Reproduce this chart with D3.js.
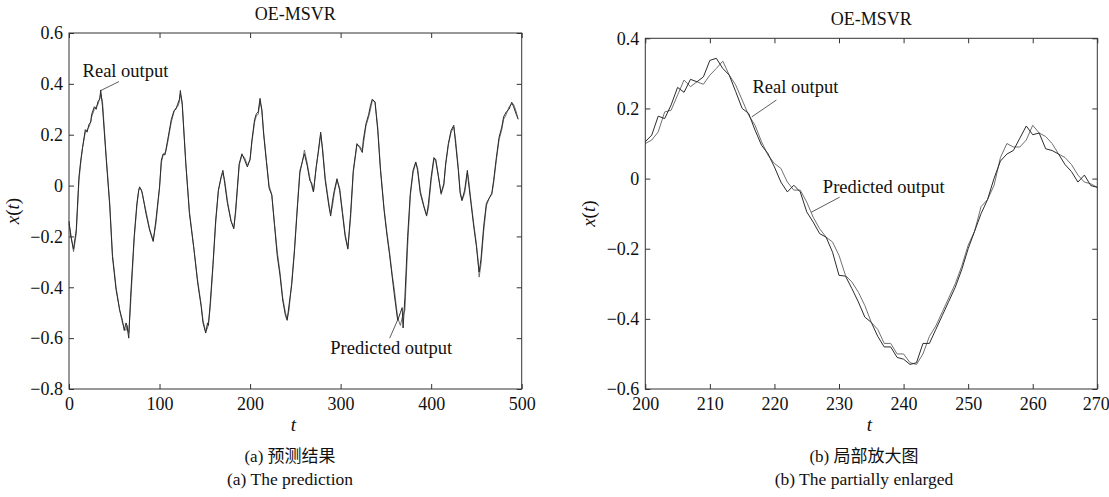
<!DOCTYPE html>
<html>
<head>
<meta charset="utf-8">
<script src="https://cdn.jsdelivr.net/npm/d3@7"></script>
<style>
  body { margin: 0; background: #fff; }
</style>
</head>
<body>
<div id="chart"></div>
<script>
// donnees

// (a) toute la serie, points releves
var leftT = [0, 2, 5, 8, 11, 13, 15, 18, 20, 22, 24, 25, 28, 30, 32, 34, 35, 37, 41, 45,
  48, 52, 56, 59, 61, 63, 64, 66, 68, 72, 75, 77, 78, 80, 81, 85, 89, 93, 96, 100,
  102, 104, 106, 107, 109, 113, 116, 118, 120, 122, 123, 125, 129, 133, 138, 142, 146, 148, 151, 153,
  154, 156, 159, 162, 165, 168, 170, 172, 175, 179, 182, 184, 188, 191, 194, 197, 200, 202, 205, 207,
  209, 211, 213, 215, 218, 221, 224, 227, 230, 233, 236, 239, 241, 243, 246, 249, 252, 255, 258, 260,
  263, 266, 268, 270, 273, 275, 278, 280, 283, 287, 289, 291, 293, 296, 299, 302, 305, 308, 311, 314,
  318, 321, 324, 325, 328, 331, 333, 335, 338, 341, 344, 348, 351, 354, 357, 359, 361, 363, 366, 368,
  369, 371, 374, 377, 380, 383, 385, 388, 392, 395, 397, 400, 403, 405, 408, 411, 414, 416, 419, 422,
  425, 427, 430, 432, 434, 437, 440, 441, 444, 447, 450, 452, 453, 455, 458, 461, 464, 467, 469, 472,
  475, 478, 480, 483, 486, 489, 491, 494, 496];

var leftReal = [-0.14, -0.2, -0.25, -0.175, 0.034, 0.10, 0.15, 0.22, 0.21, 0.24, 0.25, 0.28, 0.31, 0.30, 0.33, 0.34, 0.376, 0.31, 0.11, -0.08,
  -0.28, -0.41, -0.49, -0.53, -0.57, -0.54, -0.55, -0.60, -0.44, -0.2, -0.07, -0.018, -0.005, -0.02, -0.03, -0.11, -0.175, -0.22, -0.136, -0.005,
  0.10, 0.125, 0.12, 0.14, 0.18, 0.26, 0.295, 0.30, 0.32, 0.34, 0.374, 0.32, 0.086, -0.11, -0.25, -0.38, -0.476, -0.54, -0.58, -0.54,
  -0.55, -0.46, -0.31, -0.136, -0.018, 0.034, 0.06, 0.008, -0.07, -0.14, -0.17, -0.097, 0.086, 0.125, 0.10, 0.073, 0.105, 0.178, 0.26, 0.283,
  0.29, 0.343, 0.295, 0.2, 0.095, -0.01, -0.038, -0.157, -0.276, -0.352, -0.45, -0.51, -0.53, -0.47, -0.39, -0.26, -0.1, 0.05, 0.1, 0.125,
  0.08, 0.02, 0.01, -0.025, 0.073, 0.125, 0.21, 0.14, 0.02, -0.08, -0.12, -0.06, -0.02, 0.027, -0.02, -0.11, -0.2, -0.25, -0.11, 0.06,
  0.165, 0.15, 0.13, 0.178, 0.243, 0.28, 0.315, 0.34, 0.328, 0.217, 0.06, -0.097, -0.19, -0.27, -0.36, -0.42, -0.476, -0.53, -0.50, -0.48,
  -0.56, -0.44, -0.2, -0.03, 0.06, 0.093, 0.06, -0.03, -0.084, -0.12, -0.07, 0.034, 0.11, 0.10, 0.034, -0.03, 0.008, 0.086, 0.165, 0.217,
  0.237, 0.165, 0.06, -0.03, -0.058, -0.018, 0.06, 0.02, -0.07, -0.16, -0.24, -0.31, -0.34, -0.29, -0.16, -0.07, -0.05, -0.03, 0.02, 0.11,
  0.19, 0.23, 0.27, 0.29, 0.30, 0.328, 0.31, 0.28, 0.263];

var leftPred = [-0.15, -0.19, -0.26, -0.19, 0.02, 0.09, 0.15, 0.21, 0.22, 0.23, 0.25, 0.27, 0.30, 0.31, 0.32, 0.345, 0.36, 0.33, 0.12, -0.07,
  -0.27, -0.40, -0.49, -0.54, -0.56, -0.57, -0.55, -0.58, -0.47, -0.21, -0.08, -0.02, -0.01, -0.015, -0.035, -0.10, -0.17, -0.215, -0.15, -0.01,
  0.09, 0.12, 0.13, 0.135, 0.17, 0.25, 0.29, 0.305, 0.31, 0.33, 0.36, 0.33, 0.09, -0.10, -0.25, -0.37, -0.47, -0.53, -0.575, -0.56,
  -0.54, -0.48, -0.32, -0.15, -0.02, 0.03, 0.05, 0.02, -0.06, -0.14, -0.165, -0.11, 0.08, 0.12, 0.11, 0.08, 0.10, 0.17, 0.25, 0.275,
  0.28, 0.33, 0.30, 0.21, 0.10, 0.0, -0.035, -0.15, -0.26, -0.34, -0.44, -0.50, -0.525, -0.49, -0.38, -0.25, -0.09, 0.06, 0.095, 0.14,
  0.09, 0.03, 0.0, -0.025, 0.07, 0.12, 0.20, 0.15, 0.03, -0.07, -0.11, -0.08, -0.03, 0.02, -0.01, -0.10, -0.19, -0.245, -0.13, 0.05,
  0.16, 0.155, 0.14, 0.16, 0.235, 0.27, 0.30, 0.335, 0.33, 0.23, 0.07, -0.09, -0.18, -0.26, -0.35, -0.40, -0.46, -0.52, -0.55, -0.52,
  -0.51, -0.49, -0.24, -0.04, 0.05, 0.09, 0.07, -0.02, -0.08, -0.115, -0.09, 0.02, 0.10, 0.105, 0.04, -0.035, 0.0, 0.08, 0.16, 0.21,
  0.23, 0.18, 0.07, -0.02, -0.06, -0.03, 0.05, 0.035, -0.06, -0.15, -0.23, -0.30, -0.36, -0.31, -0.18, -0.08, -0.05, -0.035, 0.01, 0.10,
  0.18, 0.22, 0.26, 0.28, 0.31, 0.32, 0.32, 0.29, 0.26];

// (b) zoom t = 200..270, un point par pas
var zoomT = d3.range(200, 271);

var zoomReal = [0.105, 0.124, 0.178, 0.171, 0.21, 0.26, 0.246, 0.283, 0.276, 0.29,
  0.337, 0.343, 0.314, 0.295, 0.248, 0.2, 0.186, 0.138, 0.095, 0.071,
  0.033, -0.01, -0.038, -0.019, -0.038, -0.095, -0.124, -0.157, -0.167, -0.21,
  -0.276, -0.278, -0.314, -0.352, -0.395, -0.41, -0.45, -0.48, -0.48, -0.51,
  -0.515, -0.53, -0.525, -0.47, -0.47, -0.43, -0.39, -0.35, -0.31, -0.26,
  -0.2, -0.15, -0.1, -0.06, 0.0, 0.05, 0.07, 0.08, 0.115, 0.15,
  0.125, 0.13, 0.085, 0.08, 0.07, 0.04, 0.02, -0.01, 0.01, -0.02,
  -0.025];

var zoomPred = [0.1, 0.11, 0.133, 0.19, 0.195, 0.238, 0.281, 0.262, 0.276, 0.269,
  0.295, 0.314, 0.335, 0.295, 0.267, 0.224, 0.181, 0.152, 0.105, 0.067,
  0.043, 0.029, -0.01, -0.033, -0.033, -0.067, -0.11, -0.143, -0.167, -0.181,
  -0.219, -0.276, -0.295, -0.324, -0.362, -0.41, -0.43, -0.47, -0.47, -0.5,
  -0.5, -0.525, -0.53, -0.5, -0.45, -0.42, -0.38, -0.34, -0.3, -0.25,
  -0.19, -0.15, -0.08, -0.06, -0.02, 0.06, 0.1, 0.09, 0.09, 0.11,
  0.152, 0.13, 0.12, 0.1, 0.07, 0.06, 0.04, 0.01, -0.01, -0.015,
  -0.025];

var leftXTicks = [0, 100, 200, 300, 400, 500];
var leftYTicks = [-0.8, -0.6, -0.4, -0.2, 0, 0.2, 0.4, 0.6];
var zoomXTicks = [200, 210, 220, 230, 240, 250, 260, 270];
var zoomYTicks = [-0.6, -0.4, -0.2, 0, 0.2, 0.4];

var width = 1109, height = 497;
var serif = "'Liberation Serif', 'Times New Roman', 'Noto Sans CJK SC', serif";

var svg = d3.select("#chart")
  .append("svg")
  .attr("width", width)
  .attr("height", height)
  .style("font-family", serif)
  .attr("fill", "#111");

var panels = [
  {
    left: 69, right: 521.7, top: 33, bottom: 389,
    xDom: [0, 500], yDom: [-0.8, 0.6],
    xTicks: leftXTicks, yTicks: leftYTicks,
    t: leftT, real: leftReal, pred: leftPred,
    titleY: 20, capX: 290,
    cap1: "(a) 预测结果", cap2: "(a) The prediction",
    notes: [
      { text: "Real output", tx: 15, ty: 0.426, x1: 55.2, y1: 0.409, x2: 35.3, y2: 0.374 },
      { text: "Predicted output", tx: 288.6, ty: -0.662, x1: 354.2, y1: -0.6, x2: 363.4, y2: -0.525 }
    ]
  },
  {
    left: 645.3, right: 1097.3, top: 38.3, bottom: 389,
    xDom: [200, 270], yDom: [-0.6, 0.4],
    xTicks: zoomXTicks, yTicks: zoomYTicks,
    t: zoomT, real: zoomReal, pred: zoomPred,
    titleY: 25, capX: 864,
    cap1: "(b) 局部放大图", cap2: "(b) The partially enlarged",
    notes: [
      { text: "Real output", tx: 216.6, ty: 0.243, x1: 220.3, y1: 0.224, x2: 216.5, y2: 0.176 },
      { text: "Predicted output", tx: 227.5, ty: -0.042, x1: 230.1, y1: -0.053, x2: 225.7, y2: -0.096 }
    ]
  }
];

function fmt(d) {
  return d3.format("")(d).replace("-", "\u2212");
}

panels.forEach(function(p) {
  var x = d3.scaleLinear().domain(p.xDom).range([p.left, p.right]);
  var y = d3.scaleLinear().domain(p.yDom).range([p.bottom, p.top]);
  var g = svg.append("g");

  // lignes
  var line = d3.line()
    .x(function(d) { return x(d[0]); })
    .y(function(d) { return y(d[1]); });

  g.append("path")
    .datum(p.t.map(function(t, i) { return [t, p.pred[i]]; }))
    .attr("fill", "none")
    .attr("stroke", "#707070")
    .attr("stroke-width", 1)
    .attr("d", line);

  g.append("path")
    .datum(p.t.map(function(t, i) { return [t, p.real[i]]; }))
    .attr("fill", "none")
    .attr("stroke", "#2b2b2b")
    .attr("stroke-width", 1)
    .attr("d", line);

  // axes, graduations vers l'interieur
  var ax = [
    { a: d3.axisBottom(x), tr: "translate(0," + p.bottom + ")", lab: true, v: p.xTicks, pad: 8 },
    { a: d3.axisTop(x), tr: "translate(0," + p.top + ")", lab: false, v: p.xTicks, pad: 0 },
    { a: d3.axisLeft(y), tr: "translate(" + p.left + ",0)", lab: true, v: p.yTicks, pad: 6 },
    { a: d3.axisRight(y), tr: "translate(" + p.right + ",0)", lab: false, v: p.yTicks, pad: 0 }
  ];
  ax.forEach(function(o) {
    var axg = g.append("g")
      .attr("transform", o.tr)
      .call(o.a.tickValues(o.v).tickSizeInner(-5).tickSizeOuter(0).tickPadding(o.pad)
        .tickFormat(o.lab ? fmt : ""));
    axg.select(".domain").remove();
    axg.selectAll("line").attr("stroke", "#333");
    axg.attr("font-family", null).attr("font-size", 18);
    axg.selectAll("text").attr("fill", "#111");
  });

  g.append("rect")
    .attr("x", p.left)
    .attr("y", p.top)
    .attr("width", p.right - p.left)
    .attr("height", p.bottom - p.top)
    .attr("fill", "none")
    .attr("stroke", "#333")
    .attr("stroke-width", 1);

  var cx = (p.left + p.right) / 2;

  g.append("text")
    .attr("x", cx)
    .attr("y", p.titleY)
    .attr("text-anchor", "middle")
    .attr("font-size", 18)
    .text("OE-MSVR");

  g.append("text")
    .attr("x", cx - 2)
    .attr("y", 431)
    .attr("text-anchor", "middle")
    .attr("font-size", 19)
    .attr("font-style", "italic")
    .text("t");

  var yl = g.append("text")
    .attr("transform", "translate(" + (p.left - 50) + "," + ((p.top + p.bottom) / 2) + ")rotate(-90)")
    .attr("text-anchor", "middle")
    .attr("font-size", 19);
  yl.append("tspan").attr("font-style", "italic").text("x");
  yl.append("tspan").text("(");
  yl.append("tspan").attr("font-style", "italic").text("t");
  yl.append("tspan").text(")");

  g.append("text")
    .attr("x", p.capX)
    .attr("y", 462)
    .attr("text-anchor", "middle")
    .attr("font-size", 17)
    .text(p.cap1);

  g.append("text")
    .attr("x", p.capX)
    .attr("y", 485)
    .attr("text-anchor", "middle")
    .attr("font-size", 17.5)
    .text(p.cap2);

  // annotations
  p.notes.forEach(function(n) {
    g.append("line")
      .attr("x1", x(n.x1)).attr("y1", y(n.y1))
      .attr("x2", x(n.x2)).attr("y2", y(n.y2))
      .attr("stroke", "#333")
      .attr("stroke-width", 0.8);
    g.append("text")
      .attr("x", x(n.tx))
      .attr("y", y(n.ty))
      .attr("font-size", 18.5)
      .text(n.text);
  });
});

// dernier libelle de l'axe (b) recale dans la fenetre, comme sur l'original
svg.selectAll(".tick text")
  .filter(function(d) { return d === 270; })
  .attr("text-anchor", "end")
  .attr("dx", 12);
</script>
</body>
</html>
